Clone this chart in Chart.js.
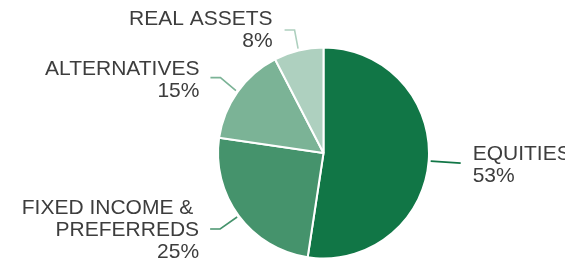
<!DOCTYPE html>
<html>
<head>
<meta charset="utf-8">
<script src="https://cdn.jsdelivr.net/npm/chart.js@4/dist/chart.umd.min.js"></script>
<style>
html,body{margin:0;padding:0;background:#fff;}
#wrap{width:565px;height:262px;position:relative;}
</style>
</head>
<body>
<div id="wrap"><canvas id="c" width="565" height="262"></canvas></div>
<script>
// Data
const categories = [['EQUITIES'], ['FIXED INCOME & ', 'PREFERREDS'], ['ALTERNATIVES'], ['REAL ASSETS']];
const values = [52.4, 24.9, 15.1, 7.6];
const percentLabels = ['53%', '25%', '15%', '8%'];
const colors = ['#117646', '#45936c', '#7bb396', '#aed0bf'];

// Leader line / label layout (offsets from slice mid-point on the rim)
const labelLayout = [
  { path: [[30, 2]], align: 'left', dx: 12, dy: -2.7 },
  { path: [[-17, 12], [-27, 12]], align: 'right', dx: -11, dy: -14.7 },
  { path: [[-15.5, -13], [-25.5, -13]], align: 'right', dx: -11, dy: -3 },
  { path: [[-3.5, -18.5], [-13.5, -18.5]], align: 'right', dx: -12, dy: -5.3 }
];

const leaderPlugin = {
  id: 'leaders',
  afterDatasetsDraw(chart) {
    const ctx = chart.ctx;
    const meta = chart.getDatasetMeta(0);
    meta.data.forEach((arc, i) => {
      const p = arc.getProps(['x', 'y', 'startAngle', 'endAngle', 'outerRadius'], true);
      const mid = (p.startAngle + p.endAngle) / 2;
      const ax = p.x + Math.cos(mid) * (p.outerRadius + 2);
      const ay = p.y + Math.sin(mid) * (p.outerRadius + 2);
      const L = labelLayout[i];
      ctx.save();
      ctx.strokeStyle = colors[i];
      ctx.lineWidth = 1.6;
      ctx.beginPath();
      ctx.moveTo(ax, ay);
      let ex = ax, ey = ay;
      L.path.forEach(pt => { ex = ax + pt[0]; ey = ay + pt[1]; ctx.lineTo(ex, ey); });
      ctx.stroke();
      ctx.fillStyle = '#3d3d3d';
      ctx.font = '21px "Liberation Sans", Arial, sans-serif';
      ctx.textAlign = L.align;
      ctx.textBaseline = 'alphabetic';
      const lines = categories[i].concat([percentLabels[i]]);
      const tx = ex + L.dx;
      lines.forEach((ln, k) => {
        ctx.fillText(ln, tx, ey + L.dy + k * 22);
      });
      ctx.restore();
    });
  }
};

new Chart(document.getElementById('c'), {
  type: 'pie',
  data: {
    labels: categories.map(c => c.join('').trim()),
    datasets: [{
      data: values,
      backgroundColor: colors,
      borderColor: '#ffffff',
      borderWidth: 2
    }]
  },
  options: {
    responsive: false,
    animation: false,
    layout: { padding: { left: 217, right: 135, top: 46.5, bottom: 2.5 } },
    plugins: { legend: { display: false }, tooltip: { enabled: false } }
  },
  plugins: [leaderPlugin]
});
</script>
</body>
</html>
